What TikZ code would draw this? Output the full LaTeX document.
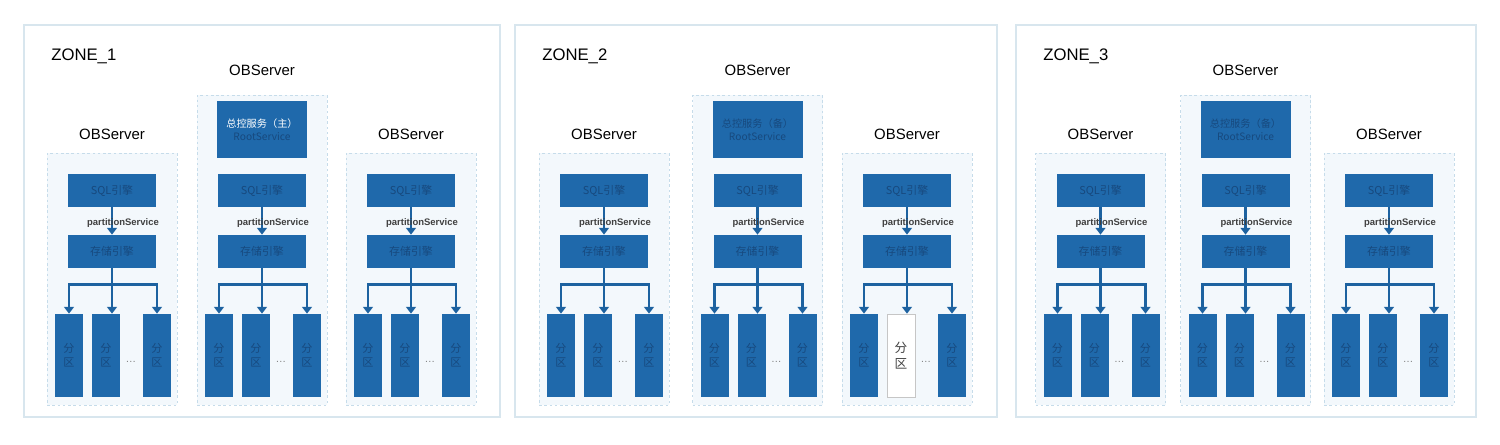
\documentclass[tikz,border=0pt]{standalone}
\usepackage{fontspec}
\setmainfont{Liberation Sans}
\newfontfamily\cjk{Noto Sans CJK SC}
\usetikzlibrary{arrows.meta,positioning,fit}

\definecolor{obblue}{HTML}{1F69AB}
\definecolor{obtext}{HTML}{17497E}
\definecolor{arrblue}{HTML}{1D62A0}
\definecolor{srvfill}{HTML}{F3F8FC}
\definecolor{srvline}{HTML}{C6DCEA}
\definecolor{zoneline}{HTML}{D8E6EE}

\begin{document}
\begin{tikzpicture}[
    x=0.02cm, y=-0.02cm,
    zonebox/.style={
        draw=zoneline, line width=0.6pt,
        inner sep=0pt
    },
    zonelbl/.style={anchor=west, inner sep=0pt, font=\fontsize{9.5}{11}\selectfont},
    srvbox/.style={
        draw=srvline, dashed,
        dash pattern=on 1.5pt off 1.5pt,
        fill=srvfill, line width=0.4pt,
        inner sep=0pt
    },
    srvlbl/.style={font=\fontsize{8.5}{10}\selectfont},
    engbox/.style={
        fill=obblue,
        minimum width=1.76cm,
        minimum height=0.66cm,
        inner sep=0pt,
        text=obtext,
        font=\cjk\fontsize{6.2}{7}\selectfont
    },
    rootbox/.style={
        fill=obblue,
        minimum width=1.8cm,
        minimum height=1.14cm,
        inner sep=0pt,
        align=center,
        text=obtext,
        font=\cjk\fontsize{5.8}{7.2}\selectfont
    },
    partbox/.style={
        fill=obblue,
        minimum width=0.56cm,
        minimum height=1.66cm,
        inner sep=0pt,
        align=center,
        text=obtext,
        font=\cjk\fontsize{6.3}{7.8}\selectfont
    },
    partwhite/.style={
        partbox, fill=white,
        draw=gray!45, line width=0.4pt,
        text=black!75,
        font=\cjk\fontsize{7.2}{8.8}\selectfont
    },
    svclbl/.style={font=\bfseries\fontsize{5.4}{6}\selectfont, text=black!75},
    dotlbl/.style={font=\fontsize{6}{7}\selectfont, text=gray},
    arr/.style={-{Triangle[length=3.8pt,width=5.5pt]}, line width=1.5pt, draw=arrblue},
]
\useasboundingbox (0,0) rectangle (1500,444);

% zones
\foreach \z/\xl/\xr in {1/24/500, 2/515/997, 3/1016/1476} {
    \node[zonebox, fit={(\xl,25) (\xr,417)}] (zone\z) {};
    \node[zonelbl] (zlbl\z) at (\xl+27,56) {ZONE\_\z};
}

% servers: zone/index/centre/top/label y
\foreach \z/\s/\c/\t/\ly in {1/1/112/153/134, 1/2/262/95/70, 1/3/411/153/134,
                             2/1/604/153/134, 2/2/757.5/95/70, 2/3/907/153/134,
                             3/1/1100.5/153/134, 3/2/1245.5/95/70, 3/3/1389/153/134} {
    \node[srvbox, fit={(\c-65,\t) (\c+65,405)}] (srv\z\s) {};
    \node[srvlbl] (olbl\z\s) at (\c,\ly) {OBServer};

    \node[engbox] (sql\z\s) at (\c,190.5) {SQL引擎};
    \node[engbox] (sto\z\s) at (\c,251.5) {存储引擎};

    \ifnum\z\s=23
        \tikzset{pmid/.style={partwhite}}
    \else
        \tikzset{pmid/.style={partbox}}
    \fi
    \node[partbox] (pa\z\s) at (\c-43,355.5) {分\\区};
    \node[pmid]    (pb\z\s) at (\c-6,355.5)  {分\\区};
    \node[partbox] (pc\z\s) at (\c+45,355.5) {分\\区};
    \node[dotlbl]  (dd\z\s) at (\c+19,362)   {\dots};

    \draw[arr] (sql\z\s) -- node[svclbl, xshift=0.22cm, yshift=-0.05cm] {partitionService} (sto\z\s);
    \draw[arr] (sto\z\s.south) -- ++(0,16) -| (pa\z\s.north);
    \draw[arr] (sto\z\s.south) -- ++(0,16) -| (pc\z\s.north);
    \draw[arr] (sto\z\s.south) -- (sto\z\s.south |- pb\z\s.north);
}

% root service on the middle server of each zone
\foreach \z/\c/\role/\col in {1/262/主/white, 2/757.5/备/obtext, 3/1245.5/备/obtext} {
    \node[rootbox] (root\z) at (\c,129.5) {{\color{\col}总控服务（\role）}\\RootService};
}

\end{tikzpicture}
\end{document}
